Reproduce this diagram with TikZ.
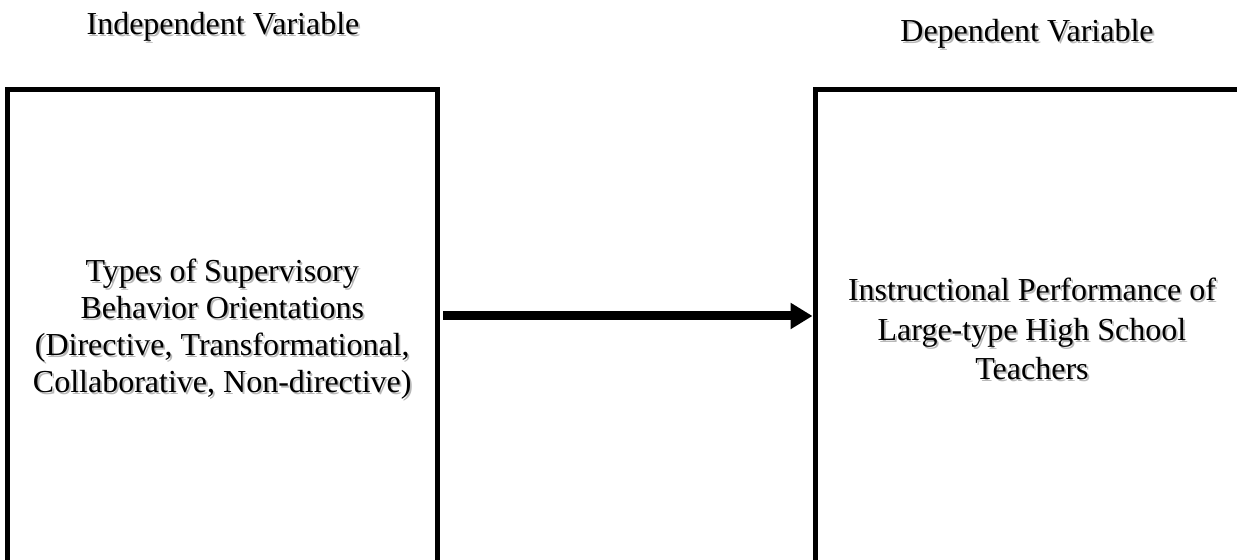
\documentclass[tikz,border=0pt]{standalone}
\usepackage{fontspec}
\setmainfont{Liberation Serif}
\usepackage{xcolor}
\usetikzlibrary{arrows.meta}

\newcommand{\shd}[1]{\leavevmode\rlap{\kern0.9pt\raisebox{-1pt}{\textcolor{black!28}{#1}}}#1}

\tikzset{
  varbox/.style={draw=black,line width=2.5pt,minimum height=240pt,
    align=center,inner sep=0pt,font=\fontsize{16}{18.6}\selectfont},
  vartitle/.style={anchor=base,inner sep=0pt,font=\fontsize{16}{18.6}\selectfont},
  flow/.style={-{Triangle[length=11pt,width=12.5pt]},line width=4.5pt}
}

\begin{document}
\begin{tikzpicture}[x=0.5pt,y=-0.5pt]
  \useasboundingbox (0,0) rectangle (1237,560);
  \clip (0,0) rectangle (1237,560);
  \fill[white] (0,0) rectangle (1237,560);
  \node[vartitle] (ivtitle) at (223,35) {\shd{Independent Variable}};
  \node[vartitle] (dvtitle) at (1027,42) {\shd{Dependent Variable}};
  \node[varbox,minimum width=214.75pt] (ivbox) at (222.25,330) {%
    \shd{Types of Supervisory}\\
    \shd{Behavior Orientations}\\
    \shd{(Directive, Transformational,}\\
    \shd{Collaborative, Non-directive)}};
  \node[varbox,minimum width=217pt,font=\fontsize{16}{19.6}\selectfont] (dvbox) at (1032,330) {%
    \shd{Instructional Performance of}\\
    \shd{Large-type High School}\\
    \shd{Teachers}};
  \coordinate (src) at (443,316);
  \draw[flow] (src) -- (src -| dvbox.west);
\end{tikzpicture}
\end{document}
